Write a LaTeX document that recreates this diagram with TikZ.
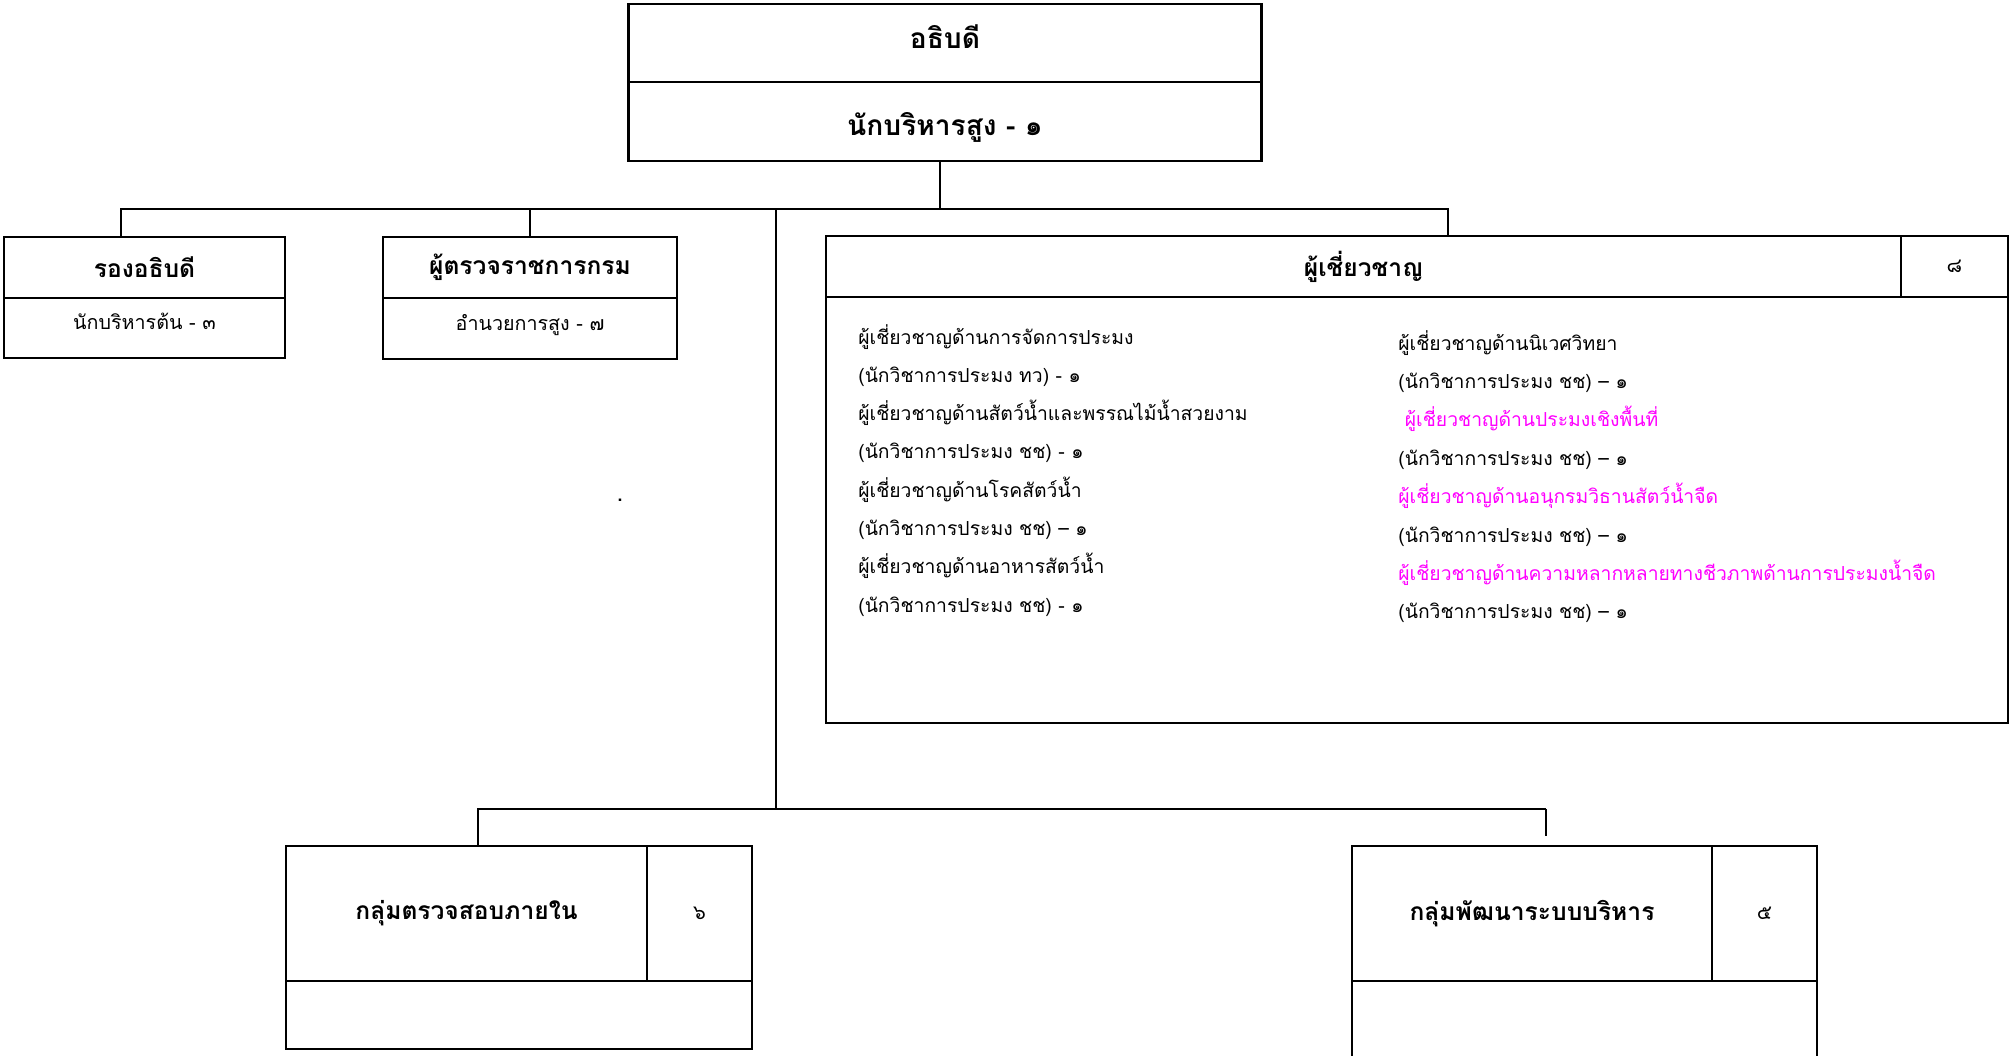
\documentclass[tikz,border=0pt]{standalone}
\usepackage{fontspec}
\setmainfont[Script=Thai]{Loma}
\usepackage{tikz}
\newlength\px
\setlength\px{0.02cm}
\definecolor{expertpink}{RGB}{255,0,255}

\begin{document}
\begin{tikzpicture}[x=0.02cm,y=-0.02cm,
    box/.style={draw, line width=1.4pt, rectangle, inner sep=0pt, align=center},
    head/.style={box, font=\fontsize{14}{16}\selectfont\bfseries},
    top/.style={box, font=\fontsize{16}{18}\selectfont\bfseries, minimum width=633\px},
    sub/.style={box, font=\fontsize{11.2}{13}\selectfont, text height=11pt, text depth=9pt},
    num/.style={box, font=\fontsize{11.5}{13}\selectfont},
    link/.style={line width=1pt},
    item/.style={anchor=base west, inner sep=0pt, font=\fontsize{11}{13}\selectfont}]
\useasboundingbox (0,0) rectangle (2014,1055);

% top
\node[top, minimum height=78\px, text height=13pt, text depth=7pt] (chief) at (945,43) {อธิบดี};
\node[top, minimum height=79\px, text height=19pt, text depth=3pt] (chiefpos) at (945,121.5) {นักบริหารสูง - ๑};

% second row
\node[head, minimum width=281\px, minimum height=61\px] (deputy) at (144.5,267.5) {รองอธิบดี};
\node[sub, minimum width=281\px, minimum height=60\px] (deputypos) at (144.5,328) {นักบริหารต้น - ๓};
\node[head, minimum width=294\px, minimum height=61\px] (inspector) at (530,267.5) {ผู้ตรวจราชการกรม};
\node[sub, minimum width=294\px, minimum height=61\px] (inspectorpos) at (530,328.5) {อำนวยการสูง - ๗};
\node[font=\fontsize{14}{16}\selectfont, inner sep=0pt] (dot) at (620,500) {.};

% experts
\node[head, minimum width=1075\px, minimum height=61\px] (experts) at (1363.5,266.5) {ผู้เชี่ยวชาญ};
\node[num, minimum width=107\px, minimum height=61\px] (expertsnum) at (1954.5,266.5) {๘};
\node[box, minimum width=1182\px, minimum height=426\px] (expertsbody) at (1417,510) {};

\foreach \t [count=\i] in {ผู้เชี่ยวชาญด้านการจัดการประมง, (นักวิชาการประมง ทว) - ๑,
    ผู้เชี่ยวชาญด้านสัตว์น้ำและพรรณไม้น้ำสวยงาม, (นักวิชาการประมง ชช) - ๑,
    ผู้เชี่ยวชาญด้านโรคสัตว์น้ำ, (นักวิชาการประมง ชช) – ๑,
    ผู้เชี่ยวชาญด้านอาหารสัตว์น้ำ, (นักวิชาการประมง ชช) - ๑}
  \node[item] (left\i) at (858,{344+38.3*(\i-1)}) {\t};

\foreach \t/\c [count=\i] in {ผู้เชี่ยวชาญด้านนิเวศวิทยา/black, (นักวิชาการประมง ชช) – ๑/black,
    \ ผู้เชี่ยวชาญด้านประมงเชิงพื้นที่/expertpink, (นักวิชาการประมง ชช) – ๑/black,
    ผู้เชี่ยวชาญด้านอนุกรมวิธานสัตว์น้ำจืด/expertpink, (นักวิชาการประมง ชช) – ๑/black,
    ผู้เชี่ยวชาญด้านความหลากหลายทางชีวภาพด้านการประมงน้ำจืด/expertpink, (นักวิชาการประมง ชช) – ๑/black}
  \node[item, text=\c] (right\i) at (1398,{350+38.4*(\i-1)}) {\t};

% groups
\node[head, minimum width=361\px, minimum height=135\px] (audit) at (466.5,913.5) {กลุ่มตรวจสอบภายใน};
\node[num, minimum width=105\px, minimum height=135\px] (auditnum) at (699.5,913.5) {๖};
\node[box, minimum width=466\px, minimum height=68\px] (auditbody) at (519,1015) {};
\node[head, minimum width=360\px, minimum height=135\px] (mgmt) at (1532,913.5) {กลุ่มพัฒนาระบบบริหาร};
\node[num, minimum width=105\px, minimum height=135\px] (mgmtnum) at (1764.5,913.5) {๕};
\node[box, minimum width=465\px, minimum height=84\px] (mgmtbody) at (1584.5,1023) {};

\coordinate (hub) at (940,209);
\coordinate (busL) at (121,209);
\coordinate (busI) at (530,209);
\coordinate (busR) at (1448,209);
\coordinate (trunk) at (776,209);
\coordinate (lowL) at (478,809);
\coordinate (lowR) at (1546,809);

\draw[link] (chiefpos.south -| hub) -- (hub);
\draw[link] (busL |- deputy.north) -- (busL) -- (busR) -- (busR |- experts.north);
\draw[link] (busI) -- (inspector.north);
\draw[link] (trunk) -- (trunk |- lowL);
\draw[link] (lowL |- audit.north) -- (lowL) -- (lowR);
\draw[link, shorten >=0.18cm] (lowR) -- (lowR |- mgmt.north);

\end{tikzpicture}
\end{document}
